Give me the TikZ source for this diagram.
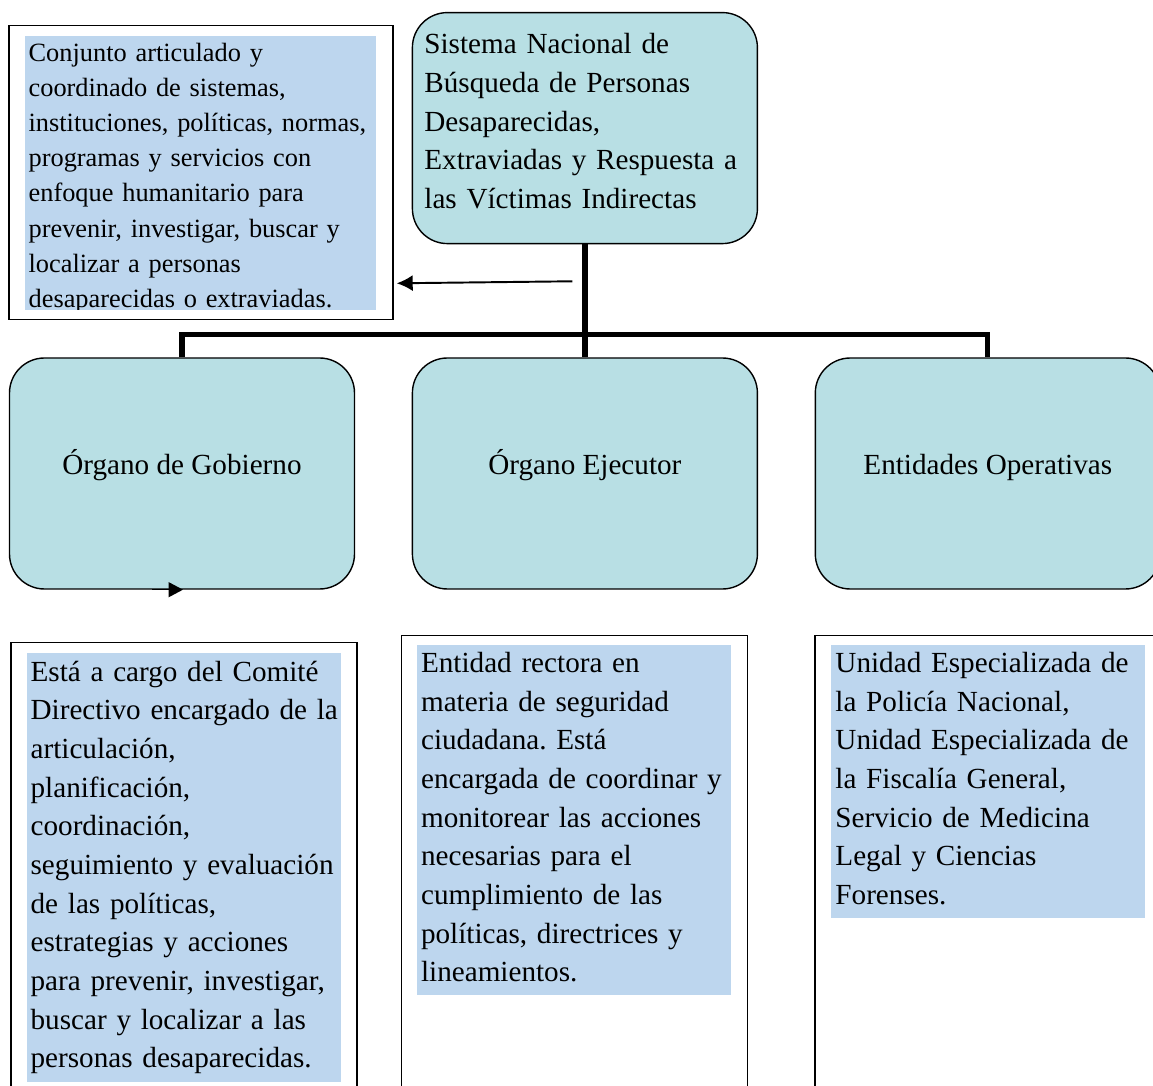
\documentclass[tikz,border=0pt]{standalone}
\usepackage{fontspec}
\setmainfont{Liberation Serif}
\usetikzlibrary{arrows.meta, positioning}
\frenchspacing

\definecolor{cajaazul}{RGB}{184,223,228}
\definecolor{resalte}{RGB}{189,214,238}

\begin{document}
\begin{tikzpicture}[
				node distance=1.13cm,
				caja/.style={rectangle, rounded corners=0.7cm, draw, line width=0.8pt, fill=cajaazul, minimum width=6.9cm, minimum height=4.62cm, font=\fontsize{16.6}{22}\selectfont},
				organo/.style={caja, text height=0.29cm, text depth=0.26cm},
				marco/.style={rectangle, draw, line width=0.8pt, minimum width=6.92cm, anchor=north},
				nota/.style={fill=resalte, anchor=north west, align=left, text width=6.12cm, inner xsep=0.08cm, inner ysep=0pt, font=\fontsize{16.6}{22}\selectfont},
				bus/.style={line width=3pt},
				arrow/.style={-{Latex[length=0.32cm,width=0.32cm]}, line width=1.1pt}
				]
				\useasboundingbox (0,0) rectangle (23.06,-21.72);
				\clip (0,0) rectangle (23.06,-21.72);
				
				% fila de organos
				\node[organo] (gobierno) at (3.64,-9.47) {Órgano de Gobierno};
				\node[organo, right=of gobierno] (ejecutor) {Órgano Ejecutor};
				\node[organo, right=of ejecutor] (operativas) {Entidades Operativas};
				
				% sistema arriba
				\node[caja, above=2.26cm of ejecutor, text width=6.42cm, inner xsep=0.24cm, align=left] (sistema) {Sistema Nacional de\\
					Búsqueda de Personas\\
					Desaparecidas,\\
					Extraviadas y Respuesta a\\
					las Víctimas Indirectas\rule[-0.28cm]{0pt}{0.28cm}};
				
				% definicion del sistema
				\node[marco, minimum width=7.68cm, minimum height=5.88cm, below left=0.26cm and 0.36cm of sistema.north west] (conjframe) {};
				\begin{scope}
					\clip ([shift={(0.32cm,-0.22cm)}]conjframe.north west) rectangle ([shift={(-0.34cm,0.22cm)}]conjframe.south east);
					\node[nota, text width=6.86cm, minimum height=5.67cm, font=\fontsize{15}{20}\selectfont, below right=0.22cm and 0.32cm of conjframe.north west] (conjtexto) {Conjunto articulado y\\
						coordinado de sistemas,\\
						instituciones, políticas, normas,\\
						programas y servicios con\\
						enfoque humanitario para\\
						prevenir, investigar, buscar y\\
						localizar a personas\\
						desaparecidas o extraviadas.};
				\end{scope}
				
				% cuadros de abajo
				\node[marco, minimum height=10cm, below=1.04cm of gobierno, xshift=0.04cm] (gobframe) {};
				\node[marco, minimum height=10cm, below=0.9cm of ejecutor, xshift=-0.21cm] (ejeframe) {};
				\node[marco, minimum height=10cm, below=0.9cm of operativas] (opeframe) {};
				
				\node[nota, minimum height=8.58cm, below right=0.22cm and 0.32cm of gobframe.north west] (gobtexto) {Está a cargo del Comité\\
					\mbox{Directivo encargado de la}\\
					articulación,\\
					planificación,\\
					coordinación,\\
					seguimiento y evaluación\\
					de las políticas,\\
					estrategias y acciones\\
					para prevenir, investigar,\\
					buscar y localizar a las\\
					personas desaparecidas.};
				\node[nota, minimum height=7cm, below right=0.2cm and 0.32cm of ejeframe.north west] (ejetexto) {Entidad rectora en\\
					materia de seguridad\\
					ciudadana. Está\\
					encargada de coordinar y\\
					monitorear las acciones\\
					necesarias para el\\
					cumplimiento de las\\
					políticas, directrices y\\
					lineamientos.\vphantom{p}};
				\node[nota, minimum height=5.46cm, below right=0.2cm and 0.34cm of opeframe.north west] (opetexto) {Unidad Especializada de\\
					la Policía Nacional,\\
					Unidad Especializada de\\
					la Fiscalía General,\\
					Servicio de Medicina\\
					Legal y Ciencias\\
					Forenses.\vphantom{p}};
				
				% conexiones
				\draw[bus] (sistema) -- (ejecutor);
				\draw[bus] (gobierno.north) -- ++(0,0.46cm) -| (operativas.north);
				
				\coordinate[below left=0.74cm and 0.25cm of sistema.south] (flechaini);
				\coordinate[above right=0.74cm and 0.06cm of conjframe.south east] (flechafin);
				\draw[arrow] (flechaini) -- (flechafin);
				
				\draw[-{Triangle[length=0.29cm,width=0.3cm]}, line width=0.8pt] ([xshift=-0.6cm]gobierno.south) -- ([xshift=0.02cm]gobierno.south);
				
			\end{tikzpicture}
\end{document}
